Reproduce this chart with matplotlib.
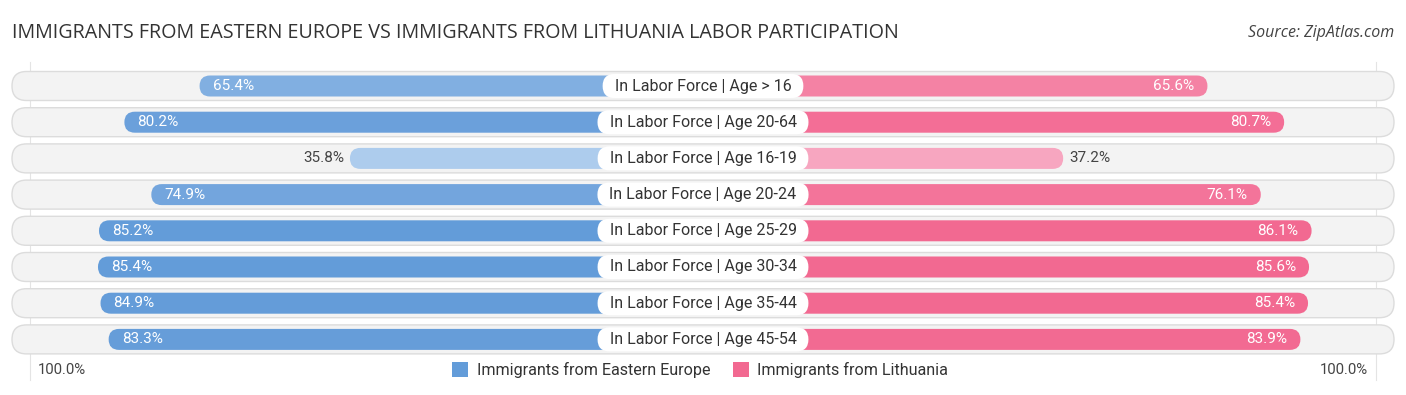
import matplotlib
matplotlib.use("Agg")
import matplotlib.pyplot as plt
from matplotlib.patches import FancyBboxPatch, Patch

categories = ["In Labor Force | Age > 16", "In Labor Force | Age 20-64", "In Labor Force | Age 16-19",
              "In Labor Force | Age 20-24", "In Labor Force | Age 25-29", "In Labor Force | Age 30-34",
              "In Labor Force | Age 35-44", "In Labor Force | Age 45-54"]
eastern_europe = [65.4, 80.2, 35.8, 74.9, 85.2, 85.4, 84.9, 83.3]
lithuania = [65.6, 80.7, 37.2, 76.1, 86.1, 85.6, 85.4, 83.9]
series_names = ["Immigrants from Eastern Europe", "Immigrants from Lithuania"]

W, H = 1406, 395
fig = plt.figure(figsize=(W / 100, H / 100), dpi=100)
ax = fig.add_axes([0, 0, 1, 1])
ax.axis("off")

PX = 5.08          # pixels per percent unit
OFF = 33.7         # offset behind label (units)
ROW = 36.2         # pixels per row
half = (W / 2) / PX
ax.set_xlim(-half, half)
ax.set_ylim((H - 86) / ROW, -86 / ROW)

asp = PX / ROW
blue_full, blue_light = (0.39, 0.61, 0.85), (0.68, 0.80, 0.93)
pink_full, pink_light = (0.95, 0.41, 0.57), (0.97, 0.66, 0.76)

def mix(c1, c2, t):
    return tuple(a * (1 - t) + b * t for a, b in zip(c1, c2))

def shade(full, light, v):
    t = min(max((85 - v) / (85 - 35.8), 0), 1)
    return mix(full, light, t)

bg_h = 29 / ROW
bar_h = 21 / ROW
bg_left = (12 - W / 2) / PX
bg_w = (W - 24) / PX
renderer = fig.canvas.get_renderer()
VF = 11

for i, (cat, a, b) in enumerate(zip(categories, eastern_europe, lithuania)):
    r = 14.5 / PX
    ax.add_patch(FancyBboxPatch((bg_left, i - bg_h / 2), bg_w, bg_h,
                                boxstyle=f"round,pad=0,rounding_size={r}",
                                mutation_aspect=asp, fc="#f3f3f3", ec="#dcdcdc", lw=1.0, zorder=1))
    rb = 10.5 / PX
    la = OFF + a
    lb = OFF + b
    ax.add_patch(FancyBboxPatch((-la, i - bar_h / 2), la, bar_h,
                                boxstyle=f"round,pad=0,rounding_size={rb}",
                                mutation_aspect=asp, fc=shade(blue_full, blue_light, a), ec="none", zorder=2))
    ax.add_patch(FancyBboxPatch((0, i - bar_h / 2), lb, bar_h,
                                boxstyle=f"round,pad=0,rounding_size={rb}",
                                mutation_aspect=asp, fc=shade(pink_full, pink_light, b), ec="none", zorder=2))
    # category label with white pill
    t = ax.text(0, i, cat, ha="center", va="center", fontsize=11.5, family="Roboto", color="#333333", zorder=5)
    tw = t.get_window_extent(renderer=renderer).width
    bw = (tw + 24) / PX
    bh = 24 / ROW
    ax.add_patch(FancyBboxPatch((-bw / 2, i - bh / 2), bw, bh,
                                boxstyle=f"round,pad=0,rounding_size={12 / PX}",
                                mutation_aspect=asp, fc="white", ec="none", zorder=4))
    # value labels
    if a > 50:
        ax.text(-la + 13 / PX, i, f"{a:.1f}%", ha="left", va="center", fontsize=VF, family="Roboto",
                color="white", zorder=3)
    else:
        ax.text(-la - 6 / PX, i, f"{a:.1f}%", ha="right", va="center", fontsize=VF, family="Roboto",
                color="#444444", zorder=3)
    if b > 50:
        ax.text(lb - 13 / PX, i, f"{b:.1f}%", ha="right", va="center", fontsize=VF, family="Roboto",
                color="white", zorder=3)
    else:
        ax.text(lb + 6 / PX, i, f"{b:.1f}%", ha="left", va="center", fontsize=VF, family="Roboto",
                color="#444444", zorder=3)

for xp in (30, 1376):
    xd = (xp - W / 2) / PX
    ax.plot([xd, xd], [(62 - 86) / ROW, (380 - 86) / ROW], color="#e4e4e4", lw=0.8, zorder=0.5)

ybottom = (370 - 86) / ROW
ax.text((38 - W / 2) / PX, ybottom, "100.0%", ha="left", va="center", fontsize=10.7, family="Roboto", color="#444444")
ax.text((1368 - W / 2) / PX, ybottom, "100.0%", ha="right", va="center", fontsize=10.7, family="Roboto", color="#444444")

fig.text(12 / W, 1 - 33 / H, "IMMIGRANTS FROM EASTERN EUROPE VS IMMIGRANTS FROM LITHUANIA LABOR PARTICIPATION",
         ha="left", va="center", fontsize=14.2, family="Open Sans", color="#333333")
fig.text(1394 / W, 1 - 33 / H, "Source: ZipAtlas.com", ha="right", va="center", fontsize=11.5,
         family="Open Sans", style="italic", color="#444444")

handles = [Patch(fc=blue_full, ec="none"), Patch(fc=pink_full, ec="none")]
fig.legend(handles, series_names, loc="center", bbox_to_anchor=(700 / W, 1 - 370 / H), ncol=2, frameon=False,
           prop=dict(family="Roboto", size=11.6), handlelength=1.0, handleheight=1.0, handletextpad=0.5,
           columnspacing=1.4, labelcolor="#333333")

fig.savefig("out.png", dpi=100)
